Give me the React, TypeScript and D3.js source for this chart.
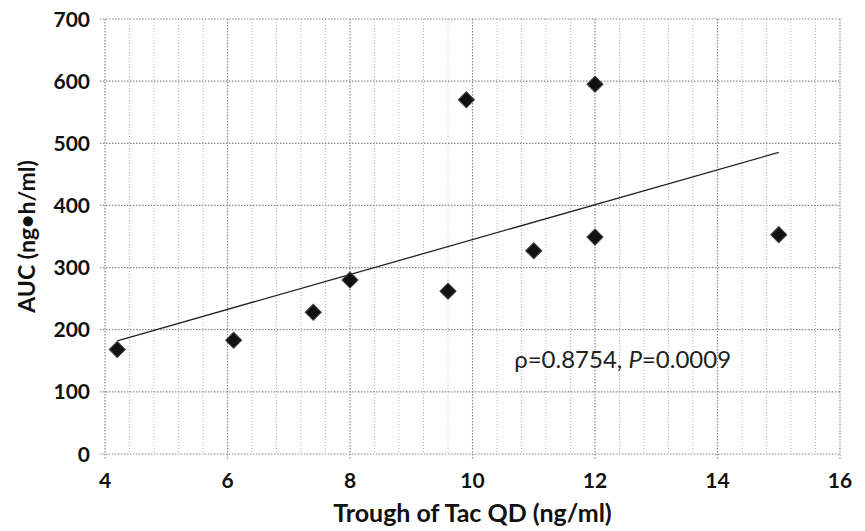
import React from "react";
import * as d3 from "d3";

// trough (ng/ml) vs AUC (ng•h/ml)
const troughValues = [4.2, 6.1, 7.4, 8.0, 9.6, 9.9, 11.0, 12.0, 12.0, 15.0];
const aucValues = [168, 183, 228, 280, 262, 570, 327, 595, 349, 353];
const xTicks = [4, 6, 8, 10, 12, 14, 16];
const yTicks = [0, 100, 200, 300, 400, 500, 600, 700];

const width = 865;
const height = 531;
const margin = { top: 19, right: 25, bottom: 77, left: 105 };

export default function App() {
    const xScale = d3
        .scaleLinear()
        .domain([4, 16])
        .range([margin.left, width - margin.right]);
    const yScale = d3
        .scaleLinear()
        .domain([0, 700])
        .range([height - margin.bottom, margin.top]);

    // least squares trend line
    const mx = d3.mean(troughValues) as number;
    const my = d3.mean(aucValues) as number;
    let sxy = 0;
    let sxx = 0;
    troughValues.forEach((x, i) => {
        sxy += (x - mx) * (aucValues[i] - my);
        sxx += (x - mx) * (x - mx);
    });
    const slope = sxy / sxx;
    const icpt = my - slope * mx;
    const xMin = d3.min(troughValues) as number;
    const xMax = d3.max(troughValues) as number;
    const trend = d3.line<number>()
        .x((d) => xScale(d))
        .y((d) => yScale(icpt + slope * d))([xMin, xMax]);

    const minorX = d3.range(4, 16.001, 0.4).filter(
        (v) => Math.abs(v / 2 - Math.round(v / 2)) > 0.01
    );

    const diamond = d3.symbol(d3.symbolSquare, 130)();
    const fontFam = "Lato, 'Open Sans', sans-serif";

    return (
        <svg
            width={width}
            height={height}
            style={{ position: "absolute", left: 0, top: 0, background: "#fff" }}
        >
            {/* minor vertical grid */}
            {minorX.map((v, i) => (
                <line
                    key={"mx" + i}
                    x1={xScale(v)}
                    x2={xScale(v)}
                    y1={yScale(700)}
                    y2={yScale(0)}
                    stroke="#b5b5b5"
                    strokeWidth={1}
                    strokeDasharray="1,2"
                />
            ))}
            {/* major grid */}
            {xTicks.map((v) => (
                <line
                    key={"gx" + v}
                    x1={xScale(v)}
                    x2={xScale(v)}
                    y1={yScale(700)}
                    y2={yScale(0) + 5}
                    stroke="#8a8a8a"
                    strokeWidth={1.2}
                    strokeDasharray="1.5,1.5"
                />
            ))}
            {yTicks.map((v) => (
                <line
                    key={"gy" + v}
                    x1={xScale(4) - 5}
                    x2={xScale(16)}
                    y1={yScale(v)}
                    y2={yScale(v)}
                    stroke="#8a8a8a"
                    strokeWidth={1.2}
                    strokeDasharray="1.5,1.5"
                />
            ))}

            {/* tick labels */}
            {yTicks.map((v) => (
                <text
                    key={"ty" + v}
                    x={xScale(4) - 15}
                    y={yScale(v)}
                    dy="0.36em"
                    textAnchor="end"
                    fontFamily={fontFam}
                    fontWeight={700}
                    fontSize={21}
                    fill="#111"
                >
                    {v}
                </text>
            ))}
            {xTicks.map((v) => (
                <text
                    key={"tx" + v}
                    x={xScale(v)}
                    y={yScale(0) + 34}
                    textAnchor="middle"
                    fontFamily={fontFam}
                    fontWeight={700}
                    fontSize={21}
                    fill="#111"
                >
                    {v}
                </text>
            ))}

            {/* trend line */}
            <path d={trend || ""} fill="none" stroke="#222" strokeWidth={1.3} />

            {/* points */}
            {troughValues.map((x, i) => (
                <path
                    key={"p" + i}
                    d={diamond || ""}
                    transform={
                        "translate(" + xScale(x) + "," + yScale(aucValues[i]) + ") rotate(45)"
                    }
                    fill="#111"
                    stroke="#444"
                    strokeWidth={1}
                />
            ))}

            {/* annotation */}
            <text
                x={xScale(10.68)}
                y={yScale(138)}
                fontFamily={fontFam}
                fontSize={24}
                fill="#222"
            >
                ρ=0.8754, <tspan fontStyle="italic">P</tspan>=0.0009
            </text>

            {/* axis titles */}
            <text
                x={(xScale(4) + xScale(16)) / 2}
                y={height - 9}
                textAnchor="middle"
                fontFamily={fontFam}
                fontWeight={700}
                fontSize={25}
                fill="#111"
            >
                Trough of Tac QD (ng/ml)
            </text>
            <text
                transform={
                    "translate(35," + (yScale(0) + yScale(700)) / 2 + ") rotate(-90)"
                }
                textAnchor="middle"
                fontFamily={fontFam}
                fontWeight={700}
                fontSize={23}
                fill="#111"
            >
                AUC (ng•h/ml)
            </text>
        </svg>
    );
}
